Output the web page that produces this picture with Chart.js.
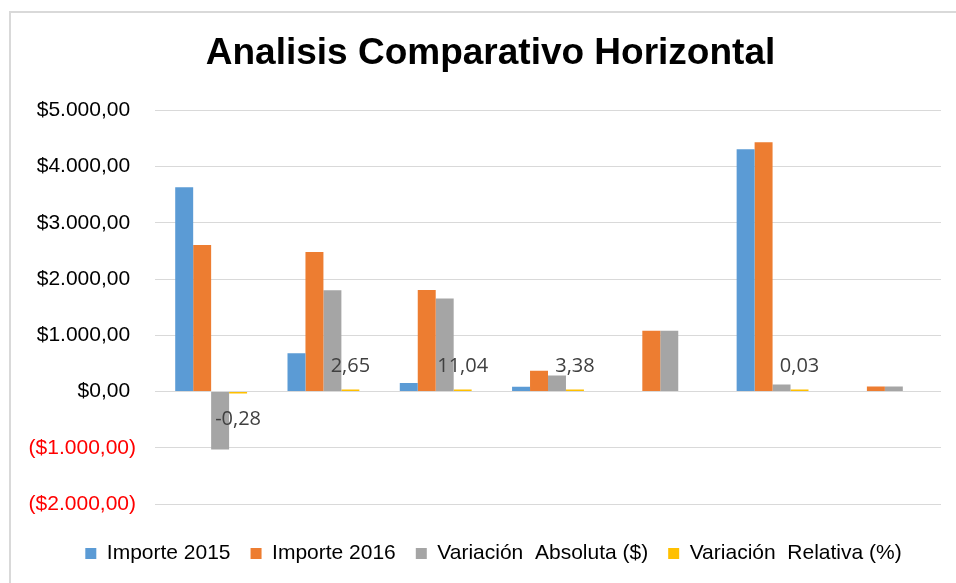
<!DOCTYPE html>
<html>
<head>
    <title>Analisis Comparativo Horizontal</title>
    <script src="https://cdn.jsdelivr.net/npm/chart.js"></script>
    <style>
        html, body {
            margin: 0;
            padding: 0;
            background: #ffffff;
            overflow: hidden;
            width: 956px;
            height: 583px;
        }
        #frame {
            position: absolute;
            left: 9px;
            top: 11px;
            width: 1000px;
            height: 1000px;
            border-top: 2px solid #d9d9d9;
            border-left: 2px solid #d9d9d9;
        }
        #chart-container {
            position: absolute;
            left: 12px;
            top: 0;
            width: 960px;
            height: 574px;
        }
    </style>
</head>
<body>

<div id="frame"></div>
<div id="chart-container">
    <canvas id="comparativo"></canvas>
</div>

<script>
    // categorias sin etiqueta visible en el grafico original
    const categorias = ['Rubro 1', 'Rubro 2', 'Rubro 3', 'Rubro 4', 'Rubro 5', 'Rubro 6', 'Rubro 7'];
    const importe2015 = [3635, 680, 150, 84, 0, 4310, 0];
    const importe2016 = [2606, 2480, 1805, 368, 1082, 4435, 89];
    const variacionAbsoluta = [-1029, 1800, 1655, 284, 1082, 125, 89];
    const variacionRelativa = [-0.28, 2.65, 11.04, 3.38, null, 0.03, null];
    const yMin = -2000, yMax = 5000, yStep = 1000;

    function moneda(v) {
        const partes = Math.abs(v).toFixed(2).split('.');
        const entero = partes[0].replace(/\B(?=(\d{3})+(?!\d))/g, '.');
        const txt = '$' + entero + ',' + partes[1];
        return v < 0 ? '(' + txt + ')' : txt + ' ';
    }

    // etiquetas de datos de la serie "Variación Relativa"
    const etiquetas = {
        id: 'etiquetas',
        afterDatasetsDraw(chart) {
            const ctx = chart.ctx;
            const meta = chart.getDatasetMeta(3);
            ctx.save();
            ctx.font = '20px "Open Sans"';
            ctx.fillStyle = '#404040';
            ctx.textAlign = 'center';
            ctx.textBaseline = 'middle';
            meta.data.forEach((bar, i) => {
                const v = variacionRelativa[i];
                if (v === null) return;
                const y = v < 0 ? bar.y + 26 : bar.y - 23;
                ctx.fillText(v.toFixed(2).replace('.', ','), bar.x, y);
            });
            ctx.restore();
        }
    };

    // centra titulo y leyenda sobre el objeto grafico completo
    const centrado = {
        id: 'centrado',
        afterLayout(chart) {
            chart.titleBlock.left += 14;
            chart.titleBlock.right += 14;
            chart.legend.left += 17;
            chart.legend.right += 17;
        }
    };

    new Chart(document.getElementById('comparativo'), {
        type: 'bar',
        data: {
            labels: categorias,
            datasets: [
                { label: 'Importe 2015', data: importe2015, backgroundColor: '#5B9BD5' },
                { label: 'Importe 2016', data: importe2016, backgroundColor: '#ED7D31' },
                { label: 'Variación  Absoluta ($)', data: variacionAbsoluta, backgroundColor: '#A5A5A5' },
                { label: 'Variación  Relativa (%)', data: variacionRelativa, backgroundColor: '#FFC000', minBarLength: 2 }
            ]
        },
        options: {
            responsive: true,
            maintainAspectRatio: false,
            animation: false,
            categoryPercentage: 0.64,
            barPercentage: 1.0,
            layout: { padding: { left: 0, right: 31, top: 0, bottom: 0 } },
            scales: {
                x: {
                    grid: { display: false },
                    border: { display: false },
                    ticks: { display: false },
                    afterFit(scale) { scale.height = 19; }
                },
                y: {
                    min: yMin,
                    max: yMax,
                    border: { display: false },
                    grid: { color: '#d9d9d9', lineWidth: 1, drawTicks: false },
                    ticks: {
                        stepSize: yStep,
                        padding: 19,
                        font: { family: '"Liberation Sans", Arial', size: 21 },
                        color: ctx => ctx.tick.value < 0 ? '#FF0000' : '#000000',
                        callback: v => moneda(v)
                    },
                    afterFit(scale) { scale.width = 143; }
                }
            },
            plugins: {
                title: {
                    display: true,
                    text: 'Analisis Comparativo Horizontal',
                    color: '#000000',
                    font: { family: '"Liberation Sans", Arial', size: 37, weight: 'bold' },
                    padding: { top: 32, bottom: 34 }
                },
                legend: {
                    position: 'bottom',
                    labels: {
                        color: '#000000',
                        font: { family: '"Liberation Sans", Arial', size: 21 },
                        boxWidth: 11,
                        boxHeight: 11,
                        padding: 20
                    }
                },
                tooltip: { enabled: false }
            }
        },
        plugins: [etiquetas, centrado]
    });
</script>

</body>
</html>
